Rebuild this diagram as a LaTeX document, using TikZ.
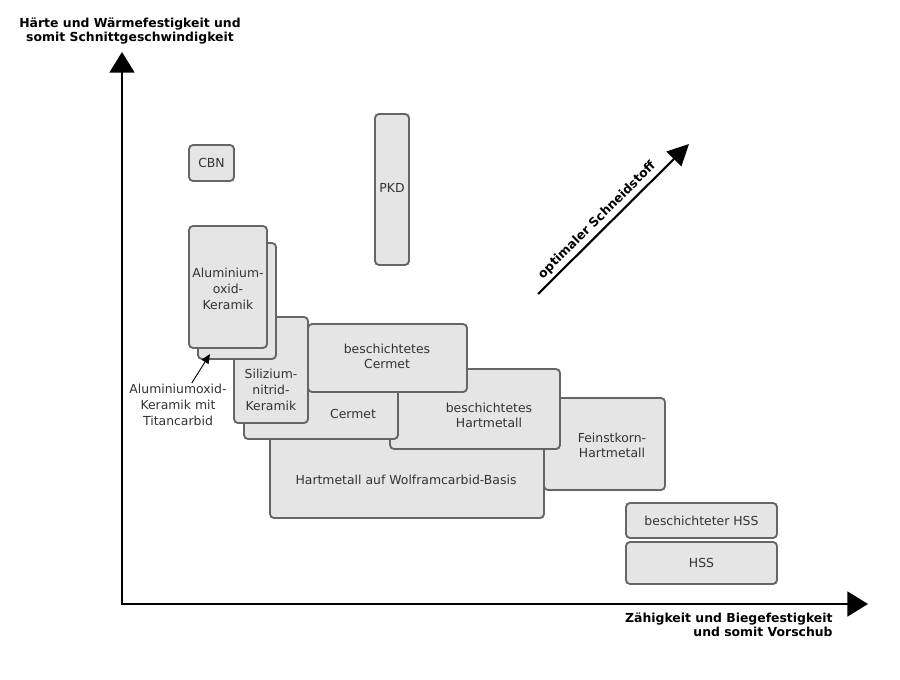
\documentclass[tikz,border=0pt]{standalone}
\usepackage{fontspec}
\setmainfont{DejaVu Sans}
\usetikzlibrary{arrows.meta,fit}

\definecolor{boxfill}{HTML}{E5E5E5}
\definecolor{boxline}{HTML}{666666}
\definecolor{boxtext}{HTML}{333333}

\begin{document}
\begin{tikzpicture}[x=0.03cm,y=-0.03cm]
    \tikzstyle{every node}=[font=\fontsize{10.6}{13.4}\selectfont, text=boxtext, align=center, inner sep=1pt]
    \tikzstyle{matbox}=[draw=boxline, fill=boxfill, line width=1.6pt, rounded corners=0.12cm, inner sep=0pt]
    \tikzstyle{axis}=[line width=2.5pt, {Triangle[length=0.62cm,width=0.74cm]}-{Triangle[length=0.62cm,width=0.74cm]}]
    \tikzstyle{optarrow}=[line width=1.8pt, -{Triangle[length=0.64cm,width=0.62cm]}]
    \tikzstyle{pointer}=[line width=0.8pt, -{Triangle[length=0.28cm,width=0.24cm]}]
    \tikzstyle{axislbl}=[font=\bfseries\fontsize{10.6}{12.6}\selectfont, text=black]
    \fill[white] (0,0) rectangle (900,680);
    \useasboundingbox (0,0) rectangle (900,680);

    \coordinate (origin) at (122,604);
    \coordinate (ytip) at (122,52);
    \coordinate (xtip) at (868,604);
    \draw[axis] (ytip) -- (origin) -- (xtip);
    \node[axislbl] (ylbl) at (130,31) {Härte und Wärmefestigkeit und\\somit Schnittgeschwindigkeit};
    \node[axislbl, align=right, anchor=north east] (xlbl) at (834,611) {Zähigkeit und Biegefestigkeit\\und somit Vorschub};

    \node[matbox, fit={(544,398) (665,490)}] (feinstkorn) {};
    \node (feinstkorntxt) at (612,445.5) {Feinstkorn-\\Hartmetall};
    \node[matbox, fit={(270,425) (544,518)}] (wc) {};
    \node (wctxt) at (406,480) {Hartmetall auf Wolframcarbid-Basis};
    \node[matbox, fit={(390,369) (560,449)}] (bhm) {};
    \node (bhmtxt) at (489,415.5) {beschichtetes\\Hartmetall};
    \node[matbox, fit={(244,380) (398,439)}] (cermet) {};
    \node (cermettxt) at (353,414) {Cermet};
    \node[matbox, fit={(308,324) (467,392)}] (bcermet) {};
    \node (bcermettxt) at (387,356.5) {beschichtetes\\Cermet};
    \node[matbox, fit={(234,317) (308,423)}] (sin) {};
    \node (sintxt) at (271,390) {Silizium-\\nitrid-\\Keramik};
    \node[matbox, fit={(198,243) (276,359)}] (altic) {};
    \node[matbox, fit={(189,226) (267,348)}] (alox) {};
    \node (aloxtxt) at (228,289) {Aluminium-\\oxid-\\Keramik};
    \node[matbox, fit={(189,145) (234,181)}] (cbn) {};
    \node (cbntxt) at (cbn) {CBN};
    \node[matbox, fit={(375,114) (409,265)}] (pkd) {};
    \node (pkdtxt) at (392,188) {PKD};
    \node[matbox, fit={(626,503) (777,538)}] (bhss) {};
    \node (bhsstxt) at (bhss) {beschichteter HSS};
    \node[matbox, fit={(626,542) (777,584)}] (hss) {};
    \node (hsstxt) at (hss) {HSS};

    \node (alticlbl) at (178,405) {Aluminiumoxid-\\Keramik mit\\Titancarbid};
    \coordinate (altictip) at (210,354);
    \draw[pointer] (alticlbl) -- (altictip);

    \coordinate (optstart) at (538,294);
    \coordinate (opttip) at (689,144);
    \draw[optarrow] (optstart) -- node[axislbl, pos=0.44, sloped, above=2pt] (opttxt) {optimaler Schneidstoff} (opttip);
\end{tikzpicture}
\end{document}
